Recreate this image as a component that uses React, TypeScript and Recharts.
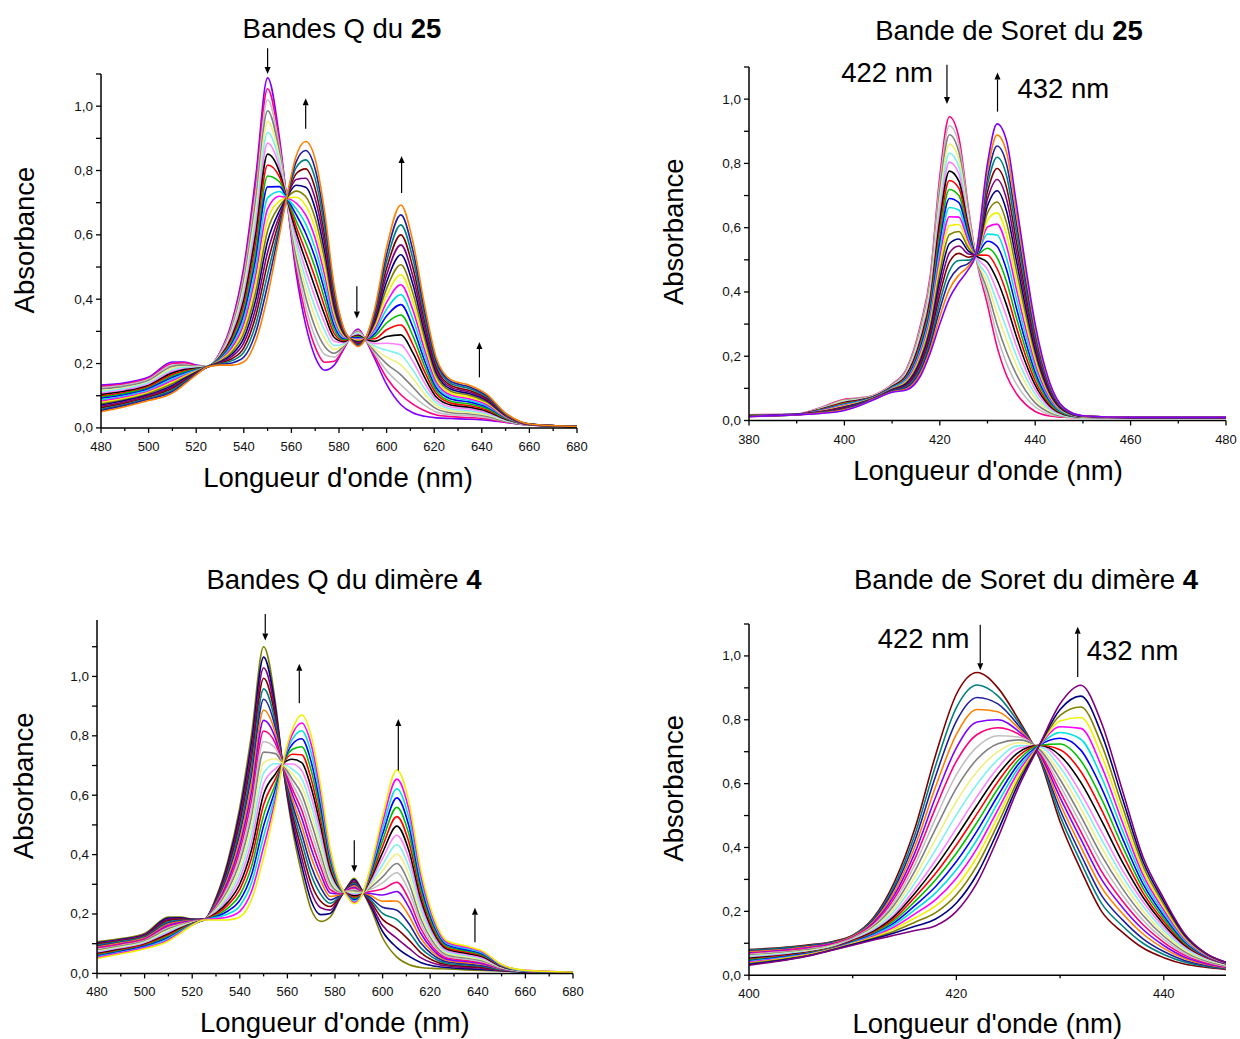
import { LineChart, Line, XAxis, YAxis, ReferenceLine } from 'recharts';

const FONT = '"Liberation Sans", Arial, Helvetica, sans-serif';

// wavelengths (nm) for the Q-band panels
const QBAND_WL = [480, 490, 500, 510, 515, 520, 525, 530, 535, 540, 545, 550, 555, 558, 562, 566, 570, 574, 578, 582, 585, 588, 591, 595, 600, 606, 611, 616, 621, 627, 635, 642, 650, 660, 680];

// absorbance, one row per wavelength, 21 spectra from start to end of the titration
const Q25_ABS = [
  [0.133, 0.129, 0.125, 0.121, 0.116, 0.112, 0.108, 0.104, 0.100, 0.096, 0.092, 0.087, 0.083, 0.079, 0.075, 0.071, 0.067, 0.063, 0.058, 0.054, 0.050],
  [0.140, 0.136, 0.133, 0.129, 0.125, 0.122, 0.118, 0.114, 0.110, 0.107, 0.103, 0.099, 0.096, 0.092, 0.088, 0.085, 0.081, 0.077, 0.073, 0.070, 0.066],
  [0.158, 0.154, 0.151, 0.147, 0.143, 0.140, 0.136, 0.132, 0.129, 0.125, 0.122, 0.118, 0.114, 0.111, 0.107, 0.103, 0.100, 0.096, 0.092, 0.089, 0.085],
  [0.205, 0.200, 0.195, 0.191, 0.186, 0.181, 0.176, 0.171, 0.166, 0.161, 0.157, 0.152, 0.147, 0.142, 0.137, 0.132, 0.127, 0.123, 0.118, 0.113, 0.108],
  [0.205, 0.202, 0.198, 0.195, 0.191, 0.188, 0.184, 0.181, 0.177, 0.174, 0.170, 0.167, 0.163, 0.160, 0.156, 0.153, 0.149, 0.146, 0.142, 0.139, 0.135],
  [0.195, 0.194, 0.192, 0.191, 0.189, 0.188, 0.186, 0.185, 0.183, 0.182, 0.180, 0.179, 0.177, 0.176, 0.174, 0.173, 0.171, 0.170, 0.168, 0.167, 0.165],
  [0.192, 0.192, 0.192, 0.192, 0.192, 0.192, 0.191, 0.191, 0.191, 0.191, 0.191, 0.191, 0.191, 0.191, 0.191, 0.191, 0.190, 0.190, 0.190, 0.190, 0.190],
  [0.235, 0.233, 0.231, 0.229, 0.227, 0.225, 0.223, 0.221, 0.219, 0.217, 0.215, 0.213, 0.211, 0.209, 0.207, 0.205, 0.203, 0.201, 0.199, 0.197, 0.195],
  [0.330, 0.323, 0.317, 0.310, 0.303, 0.296, 0.290, 0.283, 0.276, 0.269, 0.263, 0.256, 0.249, 0.242, 0.236, 0.229, 0.222, 0.215, 0.209, 0.202, 0.195],
  [0.500, 0.485, 0.471, 0.456, 0.441, 0.426, 0.412, 0.397, 0.382, 0.367, 0.353, 0.338, 0.323, 0.308, 0.294, 0.279, 0.264, 0.249, 0.235, 0.220, 0.205],
  [0.780, 0.755, 0.729, 0.704, 0.678, 0.653, 0.627, 0.602, 0.576, 0.551, 0.525, 0.500, 0.474, 0.449, 0.423, 0.398, 0.372, 0.347, 0.321, 0.296, 0.270],
  [1.088, 1.054, 1.020, 0.986, 0.952, 0.918, 0.885, 0.851, 0.817, 0.783, 0.749, 0.715, 0.681, 0.647, 0.613, 0.580, 0.546, 0.512, 0.478, 0.444, 0.410],
  [0.900, 0.885, 0.870, 0.855, 0.840, 0.825, 0.810, 0.795, 0.780, 0.765, 0.750, 0.735, 0.720, 0.705, 0.690, 0.675, 0.660, 0.645, 0.630, 0.615, 0.600],
  [0.715, 0.715, 0.715, 0.715, 0.715, 0.715, 0.715, 0.715, 0.715, 0.715, 0.715, 0.715, 0.715, 0.715, 0.715, 0.715, 0.715, 0.715, 0.715, 0.715, 0.715],
  [0.480, 0.498, 0.517, 0.535, 0.553, 0.571, 0.590, 0.608, 0.626, 0.644, 0.663, 0.681, 0.699, 0.717, 0.736, 0.754, 0.772, 0.790, 0.809, 0.827, 0.845],
  [0.320, 0.349, 0.377, 0.406, 0.434, 0.463, 0.491, 0.520, 0.548, 0.577, 0.605, 0.634, 0.662, 0.691, 0.719, 0.748, 0.776, 0.805, 0.833, 0.862, 0.890],
  [0.220, 0.251, 0.282, 0.312, 0.343, 0.374, 0.405, 0.435, 0.466, 0.497, 0.528, 0.558, 0.589, 0.620, 0.651, 0.681, 0.712, 0.743, 0.774, 0.804, 0.835],
  [0.179, 0.204, 0.228, 0.253, 0.277, 0.302, 0.326, 0.351, 0.375, 0.400, 0.425, 0.449, 0.474, 0.498, 0.523, 0.547, 0.572, 0.596, 0.621, 0.646, 0.670],
  [0.195, 0.207, 0.220, 0.232, 0.244, 0.256, 0.269, 0.281, 0.293, 0.305, 0.318, 0.330, 0.342, 0.354, 0.367, 0.379, 0.391, 0.403, 0.416, 0.428, 0.440],
  [0.245, 0.248, 0.252, 0.255, 0.258, 0.261, 0.265, 0.268, 0.271, 0.274, 0.278, 0.281, 0.284, 0.287, 0.291, 0.294, 0.297, 0.300, 0.304, 0.307, 0.310],
  [0.285, 0.284, 0.284, 0.283, 0.282, 0.282, 0.281, 0.280, 0.280, 0.279, 0.279, 0.278, 0.277, 0.277, 0.276, 0.275, 0.275, 0.274, 0.273, 0.273, 0.272],
  [0.307, 0.304, 0.302, 0.299, 0.296, 0.294, 0.291, 0.288, 0.285, 0.283, 0.280, 0.277, 0.275, 0.272, 0.269, 0.267, 0.264, 0.261, 0.258, 0.256, 0.253],
  [0.276, 0.276, 0.276, 0.276, 0.276, 0.276, 0.276, 0.276, 0.276, 0.276, 0.276, 0.276, 0.276, 0.276, 0.276, 0.276, 0.276, 0.276, 0.276, 0.276, 0.276],
  [0.215, 0.223, 0.231, 0.238, 0.246, 0.254, 0.262, 0.269, 0.277, 0.285, 0.293, 0.300, 0.308, 0.316, 0.324, 0.331, 0.339, 0.347, 0.355, 0.362, 0.370],
  [0.135, 0.156, 0.178, 0.199, 0.220, 0.241, 0.263, 0.284, 0.305, 0.326, 0.348, 0.369, 0.390, 0.411, 0.433, 0.454, 0.475, 0.496, 0.518, 0.539, 0.560],
  [0.072, 0.103, 0.134, 0.165, 0.196, 0.227, 0.258, 0.289, 0.320, 0.351, 0.383, 0.414, 0.445, 0.476, 0.507, 0.538, 0.569, 0.600, 0.631, 0.662, 0.693],
  [0.047, 0.074, 0.100, 0.127, 0.154, 0.180, 0.207, 0.234, 0.260, 0.287, 0.314, 0.340, 0.367, 0.394, 0.420, 0.447, 0.473, 0.500, 0.527, 0.553, 0.580],
  [0.036, 0.053, 0.070, 0.088, 0.105, 0.122, 0.139, 0.157, 0.174, 0.191, 0.208, 0.225, 0.242, 0.260, 0.277, 0.294, 0.311, 0.329, 0.346, 0.363, 0.380],
  [0.031, 0.040, 0.049, 0.059, 0.068, 0.077, 0.086, 0.095, 0.105, 0.114, 0.123, 0.132, 0.141, 0.151, 0.160, 0.169, 0.178, 0.187, 0.197, 0.206, 0.215],
  [0.029, 0.035, 0.041, 0.047, 0.053, 0.059, 0.065, 0.071, 0.077, 0.083, 0.090, 0.096, 0.102, 0.108, 0.114, 0.120, 0.126, 0.132, 0.138, 0.144, 0.150],
  [0.027, 0.032, 0.038, 0.043, 0.048, 0.053, 0.059, 0.064, 0.069, 0.074, 0.080, 0.085, 0.090, 0.095, 0.101, 0.106, 0.111, 0.116, 0.122, 0.127, 0.132],
  [0.024, 0.028, 0.032, 0.036, 0.040, 0.044, 0.048, 0.052, 0.056, 0.060, 0.065, 0.069, 0.073, 0.077, 0.081, 0.085, 0.089, 0.093, 0.097, 0.101, 0.105],
  [0.017, 0.018, 0.020, 0.021, 0.023, 0.024, 0.026, 0.027, 0.029, 0.030, 0.032, 0.033, 0.034, 0.036, 0.037, 0.039, 0.040, 0.042, 0.043, 0.045, 0.046],
  [0.009, 0.009, 0.009, 0.009, 0.010, 0.010, 0.010, 0.010, 0.010, 0.011, 0.011, 0.011, 0.011, 0.011, 0.011, 0.011, 0.011, 0.012, 0.012, 0.012, 0.012],
  [0.004, 0.004, 0.004, 0.004, 0.004, 0.004, 0.004, 0.004, 0.004, 0.004, 0.004, 0.004, 0.004, 0.004, 0.004, 0.004, 0.004, 0.004, 0.004, 0.004, 0.004],
];

const Q4_ABS = [
  [0.106, 0.103, 0.100, 0.098, 0.095, 0.092, 0.089, 0.086, 0.084, 0.081, 0.078, 0.075, 0.072, 0.070, 0.067, 0.064, 0.061, 0.058, 0.056, 0.053, 0.050],
  [0.117, 0.114, 0.112, 0.109, 0.107, 0.104, 0.102, 0.099, 0.097, 0.094, 0.092, 0.089, 0.086, 0.084, 0.081, 0.079, 0.076, 0.074, 0.071, 0.069, 0.066],
  [0.134, 0.131, 0.129, 0.126, 0.124, 0.121, 0.119, 0.116, 0.114, 0.111, 0.109, 0.106, 0.103, 0.101, 0.098, 0.096, 0.093, 0.091, 0.088, 0.086, 0.083],
  [0.190, 0.186, 0.182, 0.178, 0.174, 0.170, 0.166, 0.162, 0.158, 0.154, 0.150, 0.145, 0.141, 0.137, 0.133, 0.129, 0.125, 0.121, 0.117, 0.113, 0.109],
  [0.190, 0.187, 0.185, 0.182, 0.179, 0.176, 0.174, 0.171, 0.168, 0.165, 0.163, 0.160, 0.157, 0.154, 0.152, 0.149, 0.146, 0.143, 0.141, 0.138, 0.135],
  [0.183, 0.182, 0.181, 0.180, 0.179, 0.178, 0.177, 0.176, 0.175, 0.174, 0.173, 0.171, 0.170, 0.169, 0.168, 0.167, 0.166, 0.165, 0.164, 0.163, 0.162],
  [0.182, 0.182, 0.182, 0.182, 0.182, 0.182, 0.181, 0.181, 0.181, 0.181, 0.181, 0.181, 0.181, 0.181, 0.181, 0.181, 0.180, 0.180, 0.180, 0.180, 0.180],
  [0.255, 0.251, 0.248, 0.244, 0.240, 0.236, 0.233, 0.229, 0.225, 0.221, 0.218, 0.214, 0.210, 0.206, 0.203, 0.199, 0.195, 0.191, 0.188, 0.184, 0.180],
  [0.380, 0.370, 0.360, 0.350, 0.340, 0.330, 0.320, 0.310, 0.300, 0.290, 0.280, 0.270, 0.260, 0.250, 0.240, 0.230, 0.220, 0.210, 0.200, 0.190, 0.180],
  [0.560, 0.542, 0.523, 0.505, 0.486, 0.468, 0.449, 0.431, 0.412, 0.394, 0.375, 0.357, 0.338, 0.320, 0.301, 0.283, 0.264, 0.246, 0.227, 0.209, 0.190],
  [0.810, 0.782, 0.754, 0.726, 0.698, 0.670, 0.642, 0.614, 0.586, 0.558, 0.530, 0.502, 0.474, 0.446, 0.418, 0.390, 0.362, 0.334, 0.306, 0.278, 0.250],
  [1.100, 1.065, 1.029, 0.994, 0.958, 0.923, 0.887, 0.852, 0.816, 0.781, 0.745, 0.710, 0.674, 0.639, 0.603, 0.568, 0.532, 0.497, 0.461, 0.426, 0.390],
  [0.910, 0.893, 0.876, 0.859, 0.842, 0.825, 0.808, 0.791, 0.774, 0.757, 0.740, 0.723, 0.706, 0.689, 0.672, 0.655, 0.638, 0.621, 0.604, 0.587, 0.570],
  [0.705, 0.705, 0.705, 0.705, 0.705, 0.705, 0.705, 0.705, 0.705, 0.705, 0.705, 0.705, 0.705, 0.705, 0.705, 0.705, 0.705, 0.705, 0.705, 0.705, 0.705],
  [0.490, 0.507, 0.523, 0.540, 0.556, 0.573, 0.589, 0.606, 0.622, 0.639, 0.655, 0.672, 0.688, 0.705, 0.721, 0.738, 0.754, 0.771, 0.787, 0.804, 0.820],
  [0.336, 0.363, 0.389, 0.416, 0.443, 0.470, 0.496, 0.523, 0.550, 0.576, 0.603, 0.630, 0.656, 0.683, 0.710, 0.736, 0.763, 0.790, 0.817, 0.843, 0.870],
  [0.215, 0.244, 0.274, 0.303, 0.332, 0.361, 0.391, 0.420, 0.449, 0.478, 0.508, 0.537, 0.566, 0.595, 0.625, 0.654, 0.683, 0.712, 0.742, 0.771, 0.800],
  [0.175, 0.198, 0.221, 0.243, 0.266, 0.289, 0.312, 0.334, 0.357, 0.380, 0.403, 0.425, 0.448, 0.471, 0.494, 0.516, 0.539, 0.562, 0.585, 0.607, 0.630],
  [0.190, 0.202, 0.213, 0.225, 0.236, 0.248, 0.259, 0.271, 0.282, 0.294, 0.305, 0.317, 0.328, 0.340, 0.351, 0.363, 0.374, 0.386, 0.397, 0.409, 0.420],
  [0.250, 0.253, 0.255, 0.258, 0.260, 0.263, 0.265, 0.268, 0.270, 0.273, 0.275, 0.278, 0.280, 0.283, 0.285, 0.288, 0.290, 0.293, 0.295, 0.298, 0.300],
  [0.290, 0.289, 0.287, 0.286, 0.284, 0.283, 0.281, 0.280, 0.278, 0.277, 0.275, 0.274, 0.272, 0.271, 0.269, 0.268, 0.266, 0.265, 0.263, 0.262, 0.260],
  [0.320, 0.316, 0.312, 0.307, 0.303, 0.299, 0.295, 0.290, 0.286, 0.282, 0.278, 0.273, 0.269, 0.265, 0.261, 0.256, 0.252, 0.248, 0.244, 0.239, 0.235],
  [0.285, 0.284, 0.282, 0.281, 0.280, 0.278, 0.277, 0.276, 0.274, 0.273, 0.272, 0.270, 0.269, 0.267, 0.266, 0.265, 0.263, 0.262, 0.261, 0.259, 0.258],
  [0.220, 0.227, 0.234, 0.241, 0.248, 0.255, 0.262, 0.269, 0.276, 0.283, 0.290, 0.297, 0.304, 0.311, 0.318, 0.325, 0.332, 0.339, 0.346, 0.353, 0.360],
  [0.120, 0.141, 0.161, 0.182, 0.202, 0.223, 0.243, 0.264, 0.284, 0.305, 0.325, 0.346, 0.366, 0.387, 0.407, 0.428, 0.448, 0.469, 0.489, 0.510, 0.530],
  [0.055, 0.087, 0.118, 0.150, 0.181, 0.213, 0.244, 0.276, 0.307, 0.339, 0.370, 0.402, 0.433, 0.465, 0.496, 0.528, 0.559, 0.591, 0.622, 0.654, 0.685],
  [0.030, 0.058, 0.085, 0.113, 0.140, 0.168, 0.195, 0.223, 0.250, 0.278, 0.305, 0.333, 0.360, 0.388, 0.415, 0.443, 0.470, 0.498, 0.525, 0.553, 0.580],
  [0.020, 0.037, 0.053, 0.070, 0.086, 0.103, 0.119, 0.136, 0.152, 0.169, 0.185, 0.202, 0.218, 0.235, 0.251, 0.268, 0.284, 0.301, 0.317, 0.334, 0.350],
  [0.017, 0.026, 0.035, 0.044, 0.054, 0.063, 0.072, 0.081, 0.090, 0.099, 0.109, 0.118, 0.127, 0.136, 0.145, 0.154, 0.163, 0.173, 0.182, 0.191, 0.200],
  [0.015, 0.020, 0.025, 0.029, 0.034, 0.039, 0.044, 0.048, 0.053, 0.058, 0.063, 0.067, 0.072, 0.077, 0.082, 0.086, 0.091, 0.096, 0.101, 0.105, 0.110],
  [0.012, 0.016, 0.020, 0.024, 0.028, 0.032, 0.036, 0.040, 0.044, 0.048, 0.052, 0.056, 0.060, 0.064, 0.068, 0.072, 0.076, 0.080, 0.084, 0.088, 0.092],
  [0.010, 0.013, 0.017, 0.020, 0.023, 0.026, 0.030, 0.033, 0.036, 0.039, 0.043, 0.046, 0.049, 0.052, 0.056, 0.059, 0.062, 0.065, 0.069, 0.072, 0.075],
  [0.008, 0.009, 0.010, 0.011, 0.012, 0.014, 0.015, 0.016, 0.017, 0.018, 0.019, 0.020, 0.021, 0.022, 0.023, 0.025, 0.026, 0.027, 0.028, 0.029, 0.030],
  [0.005, 0.005, 0.006, 0.006, 0.006, 0.006, 0.007, 0.007, 0.007, 0.007, 0.008, 0.008, 0.008, 0.008, 0.008, 0.009, 0.009, 0.009, 0.009, 0.010, 0.010],
  [0.003, 0.003, 0.003, 0.003, 0.003, 0.003, 0.003, 0.003, 0.003, 0.003, 0.004, 0.004, 0.004, 0.004, 0.004, 0.004, 0.004, 0.004, 0.004, 0.004, 0.004],
];

const SORET25_WL = [380, 390, 395, 400, 403, 406, 410, 413, 416, 418, 420, 422, 424, 426, 427.5, 430, 432, 434, 436, 438, 440, 443, 446, 450, 460, 480];

const SORET25_ABS = [
  [0.018, 0.018, 0.017, 0.017, 0.017, 0.017, 0.016, 0.016, 0.016, 0.015, 0.015, 0.015, 0.014, 0.014, 0.014, 0.014, 0.013, 0.013, 0.013, 0.012, 0.012],
  [0.020, 0.020, 0.020, 0.020, 0.020, 0.020, 0.019, 0.019, 0.019, 0.019, 0.019, 0.019, 0.019, 0.019, 0.019, 0.019, 0.018, 0.018, 0.018, 0.018, 0.018],
  [0.040, 0.039, 0.038, 0.037, 0.036, 0.036, 0.035, 0.034, 0.033, 0.032, 0.031, 0.030, 0.029, 0.028, 0.027, 0.027, 0.026, 0.025, 0.024, 0.023, 0.022],
  [0.066, 0.064, 0.063, 0.061, 0.059, 0.057, 0.056, 0.054, 0.052, 0.050, 0.049, 0.047, 0.045, 0.043, 0.042, 0.040, 0.038, 0.036, 0.035, 0.033, 0.031],
  [0.070, 0.069, 0.068, 0.066, 0.065, 0.064, 0.063, 0.061, 0.060, 0.059, 0.058, 0.056, 0.055, 0.054, 0.053, 0.051, 0.050, 0.049, 0.048, 0.046, 0.045],
  [0.078, 0.077, 0.077, 0.076, 0.075, 0.075, 0.074, 0.073, 0.072, 0.072, 0.071, 0.070, 0.070, 0.069, 0.068, 0.068, 0.067, 0.066, 0.065, 0.065, 0.064],
  [0.113, 0.112, 0.111, 0.109, 0.108, 0.107, 0.106, 0.104, 0.103, 0.102, 0.101, 0.099, 0.098, 0.097, 0.096, 0.094, 0.093, 0.092, 0.091, 0.089, 0.088],
  [0.160, 0.157, 0.154, 0.150, 0.147, 0.144, 0.141, 0.137, 0.134, 0.131, 0.128, 0.124, 0.121, 0.118, 0.115, 0.111, 0.108, 0.105, 0.102, 0.098, 0.095],
  [0.300, 0.292, 0.284, 0.276, 0.268, 0.260, 0.252, 0.244, 0.236, 0.228, 0.220, 0.212, 0.204, 0.196, 0.188, 0.180, 0.172, 0.164, 0.156, 0.148, 0.140],
  [0.450, 0.438, 0.426, 0.414, 0.402, 0.390, 0.378, 0.366, 0.354, 0.342, 0.330, 0.318, 0.306, 0.294, 0.282, 0.270, 0.258, 0.246, 0.234, 0.222, 0.210],
  [0.760, 0.737, 0.714, 0.691, 0.668, 0.645, 0.622, 0.599, 0.576, 0.553, 0.530, 0.507, 0.484, 0.461, 0.438, 0.415, 0.392, 0.369, 0.346, 0.323, 0.300],
  [0.945, 0.917, 0.889, 0.860, 0.832, 0.804, 0.776, 0.747, 0.719, 0.691, 0.663, 0.634, 0.606, 0.578, 0.550, 0.521, 0.493, 0.465, 0.437, 0.408, 0.380],
  [0.880, 0.858, 0.835, 0.813, 0.790, 0.768, 0.745, 0.723, 0.700, 0.678, 0.655, 0.633, 0.610, 0.588, 0.565, 0.543, 0.520, 0.498, 0.475, 0.453, 0.430],
  [0.660, 0.651, 0.641, 0.632, 0.622, 0.613, 0.603, 0.594, 0.584, 0.575, 0.565, 0.556, 0.546, 0.537, 0.527, 0.518, 0.508, 0.499, 0.489, 0.480, 0.470],
  [0.515, 0.515, 0.515, 0.515, 0.515, 0.515, 0.515, 0.515, 0.515, 0.515, 0.515, 0.515, 0.515, 0.515, 0.515, 0.515, 0.515, 0.515, 0.515, 0.515, 0.515],
  [0.360, 0.382, 0.404, 0.426, 0.448, 0.470, 0.492, 0.514, 0.536, 0.558, 0.580, 0.602, 0.624, 0.646, 0.668, 0.690, 0.712, 0.734, 0.756, 0.778, 0.800],
  [0.230, 0.265, 0.299, 0.334, 0.369, 0.403, 0.438, 0.473, 0.507, 0.542, 0.577, 0.611, 0.646, 0.680, 0.715, 0.750, 0.784, 0.819, 0.854, 0.888, 0.923],
  [0.140, 0.177, 0.213, 0.250, 0.286, 0.323, 0.359, 0.396, 0.432, 0.469, 0.505, 0.542, 0.578, 0.615, 0.651, 0.688, 0.724, 0.761, 0.797, 0.834, 0.870],
  [0.085, 0.115, 0.145, 0.174, 0.204, 0.234, 0.264, 0.293, 0.323, 0.353, 0.383, 0.412, 0.442, 0.472, 0.502, 0.531, 0.561, 0.591, 0.621, 0.650, 0.680],
  [0.050, 0.072, 0.093, 0.115, 0.136, 0.158, 0.179, 0.201, 0.222, 0.244, 0.265, 0.287, 0.308, 0.330, 0.351, 0.373, 0.394, 0.416, 0.437, 0.459, 0.480],
  [0.028, 0.042, 0.055, 0.069, 0.082, 0.096, 0.110, 0.123, 0.137, 0.150, 0.164, 0.178, 0.191, 0.205, 0.218, 0.232, 0.246, 0.259, 0.273, 0.286, 0.300],
  [0.014, 0.019, 0.025, 0.030, 0.035, 0.041, 0.046, 0.051, 0.056, 0.062, 0.067, 0.072, 0.078, 0.083, 0.088, 0.094, 0.099, 0.104, 0.109, 0.115, 0.120],
  [0.010, 0.012, 0.013, 0.015, 0.016, 0.018, 0.019, 0.021, 0.022, 0.024, 0.025, 0.027, 0.028, 0.030, 0.031, 0.033, 0.034, 0.036, 0.037, 0.039, 0.040],
  [0.008, 0.008, 0.009, 0.009, 0.009, 0.010, 0.010, 0.010, 0.011, 0.011, 0.012, 0.012, 0.012, 0.013, 0.013, 0.013, 0.014, 0.014, 0.014, 0.015, 0.015],
  [0.008, 0.008, 0.008, 0.008, 0.008, 0.008, 0.009, 0.009, 0.009, 0.009, 0.009, 0.009, 0.009, 0.009, 0.009, 0.009, 0.010, 0.010, 0.010, 0.010, 0.010],
  [0.008, 0.008, 0.008, 0.008, 0.008, 0.008, 0.009, 0.009, 0.009, 0.009, 0.009, 0.009, 0.009, 0.009, 0.009, 0.009, 0.010, 0.010, 0.010, 0.010, 0.010],
];

const SORET4_WL = [400, 402, 404, 406, 408, 410, 412, 414, 416, 418, 420, 422, 424, 426, 428, 430, 432, 434, 436, 438, 440, 442, 444, 446];

const SORET4_ABS = [
  [0.080, 0.078, 0.075, 0.073, 0.070, 0.068, 0.065, 0.063, 0.060, 0.058, 0.055, 0.053, 0.050, 0.048, 0.045, 0.043, 0.041, 0.038, 0.036, 0.034, 0.031],
  [0.084, 0.082, 0.079, 0.077, 0.074, 0.072, 0.070, 0.067, 0.065, 0.063, 0.060, 0.058, 0.056, 0.054, 0.052, 0.050, 0.048, 0.046, 0.044, 0.042, 0.040],
  [0.089, 0.087, 0.084, 0.082, 0.080, 0.078, 0.075, 0.073, 0.071, 0.069, 0.066, 0.065, 0.063, 0.061, 0.060, 0.058, 0.056, 0.055, 0.053, 0.051, 0.050],
  [0.096, 0.094, 0.092, 0.090, 0.087, 0.085, 0.083, 0.081, 0.078, 0.076, 0.074, 0.073, 0.072, 0.071, 0.069, 0.068, 0.067, 0.066, 0.064, 0.063, 0.062],
  [0.105, 0.103, 0.101, 0.099, 0.098, 0.096, 0.094, 0.092, 0.091, 0.089, 0.087, 0.086, 0.085, 0.084, 0.083, 0.082, 0.082, 0.081, 0.080, 0.079, 0.078],
  [0.125, 0.124, 0.122, 0.121, 0.119, 0.118, 0.116, 0.115, 0.113, 0.112, 0.110, 0.109, 0.107, 0.105, 0.104, 0.102, 0.100, 0.099, 0.097, 0.096, 0.094],
  [0.180, 0.176, 0.172, 0.168, 0.164, 0.160, 0.156, 0.152, 0.148, 0.144, 0.140, 0.137, 0.134, 0.131, 0.128, 0.125, 0.122, 0.119, 0.116, 0.113, 0.110],
  [0.290, 0.280, 0.270, 0.260, 0.250, 0.240, 0.230, 0.220, 0.210, 0.200, 0.190, 0.184, 0.177, 0.171, 0.164, 0.158, 0.151, 0.145, 0.138, 0.132, 0.125],
  [0.460, 0.441, 0.422, 0.403, 0.384, 0.365, 0.346, 0.327, 0.308, 0.289, 0.270, 0.257, 0.244, 0.231, 0.218, 0.205, 0.192, 0.179, 0.166, 0.153, 0.140],
  [0.690, 0.657, 0.624, 0.591, 0.558, 0.525, 0.492, 0.459, 0.426, 0.393, 0.360, 0.340, 0.319, 0.299, 0.278, 0.258, 0.237, 0.217, 0.196, 0.176, 0.155],
  [0.880, 0.838, 0.796, 0.754, 0.712, 0.670, 0.628, 0.586, 0.544, 0.502, 0.460, 0.434, 0.408, 0.382, 0.356, 0.330, 0.304, 0.278, 0.252, 0.226, 0.200],
  [0.948, 0.909, 0.870, 0.832, 0.793, 0.754, 0.715, 0.677, 0.638, 0.599, 0.560, 0.533, 0.506, 0.479, 0.452, 0.425, 0.398, 0.371, 0.344, 0.317, 0.290],
  [0.900, 0.875, 0.850, 0.825, 0.800, 0.775, 0.750, 0.725, 0.700, 0.675, 0.650, 0.628, 0.606, 0.584, 0.562, 0.540, 0.518, 0.496, 0.474, 0.452, 0.430],
  [0.800, 0.791, 0.782, 0.773, 0.764, 0.755, 0.746, 0.737, 0.728, 0.719, 0.710, 0.698, 0.686, 0.674, 0.662, 0.650, 0.638, 0.626, 0.614, 0.602, 0.590],
  [0.680, 0.684, 0.688, 0.692, 0.696, 0.700, 0.704, 0.708, 0.712, 0.716, 0.720, 0.720, 0.720, 0.720, 0.720, 0.720, 0.720, 0.720, 0.720, 0.720, 0.720],
  [0.480, 0.499, 0.518, 0.537, 0.556, 0.575, 0.594, 0.613, 0.632, 0.651, 0.670, 0.688, 0.706, 0.724, 0.742, 0.760, 0.778, 0.796, 0.814, 0.832, 0.850],
  [0.330, 0.354, 0.378, 0.402, 0.426, 0.450, 0.474, 0.498, 0.522, 0.546, 0.570, 0.604, 0.638, 0.672, 0.705, 0.739, 0.773, 0.807, 0.840, 0.874, 0.908],
  [0.200, 0.225, 0.250, 0.275, 0.300, 0.325, 0.350, 0.375, 0.400, 0.425, 0.450, 0.484, 0.518, 0.552, 0.586, 0.620, 0.654, 0.688, 0.722, 0.756, 0.790],
  [0.135, 0.155, 0.174, 0.194, 0.213, 0.233, 0.252, 0.272, 0.291, 0.311, 0.330, 0.355, 0.380, 0.405, 0.430, 0.455, 0.480, 0.505, 0.530, 0.555, 0.580],
  [0.085, 0.100, 0.114, 0.129, 0.143, 0.158, 0.172, 0.187, 0.201, 0.216, 0.230, 0.244, 0.258, 0.272, 0.286, 0.300, 0.314, 0.328, 0.342, 0.356, 0.370],
  [0.055, 0.065, 0.074, 0.084, 0.093, 0.103, 0.112, 0.122, 0.131, 0.141, 0.150, 0.159, 0.168, 0.177, 0.186, 0.195, 0.204, 0.213, 0.222, 0.231, 0.240],
  [0.035, 0.041, 0.046, 0.052, 0.057, 0.063, 0.068, 0.074, 0.079, 0.085, 0.090, 0.094, 0.098, 0.102, 0.106, 0.110, 0.114, 0.118, 0.122, 0.126, 0.130],
  [0.025, 0.028, 0.031, 0.034, 0.037, 0.040, 0.043, 0.046, 0.049, 0.052, 0.055, 0.057, 0.058, 0.060, 0.061, 0.063, 0.064, 0.066, 0.067, 0.069, 0.070],
  [0.018, 0.020, 0.021, 0.023, 0.025, 0.027, 0.028, 0.030, 0.032, 0.034, 0.035, 0.036, 0.036, 0.037, 0.037, 0.038, 0.038, 0.039, 0.039, 0.040, 0.040],
];

// axis ticks
const QBAND_X_TICKS = [480, 490, 500, 510, 520, 530, 540, 550, 560, 570, 580, 590, 600, 610, 620, 630, 640, 650, 660, 670, 680];
const SORET25_X_TICKS = [380, 390, 400, 410, 420, 430, 440, 450, 460, 470, 480];
const SORET4_X_TICKS = [400, 410, 420, 430, 440];
const Y_TICKS = [0, 0.1, 0.2, 0.3, 0.4, 0.5, 0.6, 0.7, 0.8, 0.9, 1.0, 1.1];

// arrows showing the direction of change (wavelength, start, end absorbance)
const Q25_ARROWS = [
  { wl: 550, from: 1.18, to: 1.1 },
  { wl: 566, from: 0.93, to: 1.025 },
  { wl: 587.5, from: 0.44, to: 0.34 },
  { wl: 606.3, from: 0.73, to: 0.845 },
  { wl: 639, from: 0.157, to: 0.267 },
];
const SORET25_ARROWS = [
  { wl: 421.5, from: 1.107, to: 0.985 },
  { wl: 432.1, from: 0.961, to: 1.083 },
];
const Q4_ARROWS = [
  { wl: 550.7, from: 1.21, to: 1.121 },
  { wl: 565, from: 0.91, to: 1.043 },
  { wl: 588.1, from: 0.448, to: 0.341 },
  { wl: 606.6, from: 0.683, to: 0.857 },
  { wl: 638.8, from: 0.105, to: 0.221 },
];
const SORET4_ARROWS = [
  { wl: 422.3, from: 1.098, to: 0.955 },
  { wl: 431.7, from: 0.934, to: 1.091 },
];

// Origin-like colour cycle
const CYCLE = ['#000000', '#ff0000', '#00c000', '#0000ff', '#00e0e0', '#ff00ff', '#f0f000', '#808000', '#000080', '#800080', '#800000', '#008080', '#2020a0', '#ff8000', '#8000ff', '#ff0080', '#c0c0c0', '#808080', '#f0f080', '#80f0f0', '#ff80ff'];

const ML = 60;
const MR = 14;
const MT = 40;
const MB = 34;

const PANELS = [
  { id: 'q25', wl: QBAND_WL, abs: Q25_ABS, arrows: Q25_ARROWS, xTicks: QBAND_X_TICKS, xDomain: [480, 680], yMax: 1.1, left: 101, top: 73.8, w: 476, h: 353.9, colorOffset: 14 },
  { id: 's25', wl: SORET25_WL, abs: SORET25_ABS, arrows: SORET25_ARROWS, xTicks: SORET25_X_TICKS, xDomain: [380, 480], yMax: 1.1, left: 749, top: 67.2, w: 477, h: 353.5, colorOffset: 15 },
  { id: 'q4', wl: QBAND_WL, abs: Q4_ABS, arrows: Q4_ARROWS, xTicks: QBAND_X_TICKS, xDomain: [480, 680], yMax: 1.19, left: 97, top: 619.6, w: 476, h: 353.4, colorOffset: 7 },
  { id: 's4', wl: SORET4_WL, abs: SORET4_ABS, arrows: SORET4_ARROWS, xTicks: SORET4_X_TICKS, xDomain: [400, 446], yMax: 1.1, left: 749, top: 623.8, w: 477, h: 351.2, colorOffset: 10 },
];

function XTick(props: any) {
  const { x, y, payload } = props;
  const v = payload.value;
  const major = v % 20 === 0;
  return (
    <g>
      <line x1={x} x2={x} y1={y} y2={y + (major ? 5 : 3)} stroke="#000" strokeWidth={1.3} />
      {major && (
        <text x={x} y={y + 23} textAnchor="middle" fontSize={13} fontFamily={FONT} fill="#111">
          {v}
        </text>
      )}
    </g>
  );
}

function YTick(props: any) {
  const { x, y, payload } = props;
  const v = payload.value;
  const major = Math.round(v * 10) % 2 === 0;
  return (
    <g>
      <line x1={x - 5} x2={x} y1={y} y2={y} stroke="#000" strokeWidth={1.3} />
      {major && (
        <text x={x - 8} y={y + 4.5} textAnchor="end" fontSize={13.5} fontFamily={FONT} fill="#111">
          {v.toFixed(1).replace('.', ',')}
        </text>
      )}
    </g>
  );
}

function Arrow(props: any) {
  const { x1, y1, x2, y2 } = props;
  const dir = y2 > y1 ? 1 : -1;
  const head = 7;
  return (
    <g>
      <line x1={x1} y1={y1} x2={x2} y2={y2 - dir * head} stroke="#000" strokeWidth={1.2} />
      <polygon points={`${x2 - 3},${y2 - dir * head} ${x2 + 3},${y2 - dir * head} ${x2},${y2}`} fill="#000" />
    </g>
  );
}

function Panel({ p }: { p: (typeof PANELS)[number] }) {
  const nSpectra = p.abs[0].length;
  const rows = p.wl.map((wl, i) => {
    const row: Record<string, number> = { wl };
    p.abs[i].forEach((v, k) => {
      row['s' + k] = v;
    });
    return row;
  });
  const keys = Array.from({ length: nSpectra }, (_, k) => k);
  return (
    <div style={{ position: 'absolute', left: p.left - ML, top: p.top - MT }}>
      <LineChart
        width={ML + p.w + MR}
        height={MT + p.h + MB}
        data={rows}
        margin={{ top: MT, right: MR, left: 0, bottom: 0 }}
      >
        <XAxis
          type="number"
          dataKey="wl"
          domain={p.xDomain}
          ticks={p.xTicks}
          interval={0}
          height={MB}
          tickSize={0}
          tickMargin={0}
          tickLine={false}
          tick={(t: any) => <XTick {...t} />}
          axisLine={{ stroke: '#000', strokeWidth: 1.5 }}
          allowDataOverflow
        />
        <YAxis
          type="number"
          domain={[0, p.yMax]}
          ticks={Y_TICKS}
          interval={0}
          width={ML}
          tickSize={0}
          tickMargin={0}
          tickLine={false}
          tick={(t: any) => <YTick {...t} />}
          axisLine={{ stroke: '#000', strokeWidth: 1.5 }}
          allowDataOverflow
        />
        {keys.map((k) => (
          <Line
            key={k}
            type="monotone"
            dataKey={'s' + k}
            stroke={CYCLE[(k + p.colorOffset) % CYCLE.length]}
            strokeWidth={1.6}
            dot={false}
            activeDot={false}
            isAnimationActive={false}
          />
        ))}
        {p.arrows.map((a, i) => (
          <ReferenceLine
            key={'a' + i}
            segment={[{ x: a.wl, y: a.from }, { x: a.wl, y: a.to }]}
            ifOverflow="visible"
            shape={(sp: any) => <Arrow {...sp} />}
          />
        ))}
      </LineChart>
    </div>
  );
}

const BIG = 27.5;

export default function App() {
  return (
    <div style={{ position: 'absolute', left: 0, top: 0, width: 1240, height: 1039, background: '#fff', overflow: 'hidden' }}>
      {PANELS.map((p) => (
        <Panel key={p.id} p={p} />
      ))}
      <svg width={1240} height={1039} style={{ position: 'absolute', left: 0, top: 0, pointerEvents: 'none' }} fontFamily={FONT} fill="#000">
        <text x={342} y={37.5} fontSize={BIG} textAnchor="middle">
          Bandes Q du <tspan fontWeight="bold">25</tspan>
        </text>
        <text x={1009} y={40} fontSize={BIG} textAnchor="middle">
          Bande de Soret du <tspan fontWeight="bold">25</tspan>
        </text>
        <text x={344} y={589} fontSize={BIG} textAnchor="middle">
          Bandes Q du dimère <tspan fontWeight="bold">4</tspan>
        </text>
        <text x={1026} y={589} fontSize={BIG} textAnchor="middle">
          Bande de Soret du dimère <tspan fontWeight="bold">4</tspan>
        </text>

        <text x={34} y={240} fontSize={BIG} textAnchor="middle" transform="rotate(-90 34 240)">Absorbance</text>
        <text x={682.6} y={231.7} fontSize={BIG} textAnchor="middle" transform="rotate(-90 682.6 231.7)">Absorbance</text>
        <text x={32.7} y={785.8} fontSize={BIG} textAnchor="middle" transform="rotate(-90 32.7 785.8)">Absorbance</text>
        <text x={683} y={788.3} fontSize={BIG} textAnchor="middle" transform="rotate(-90 683 788.3)">Absorbance</text>

        <text x={338} y={486.7} fontSize={BIG} textAnchor="middle">Longueur d'onde (nm)</text>
        <text x={988} y={480} fontSize={BIG} textAnchor="middle">Longueur d'onde (nm)</text>
        <text x={334.8} y={1031.7} fontSize={BIG} textAnchor="middle">Longueur d'onde (nm)</text>
        <text x={987.3} y={1033.3} fontSize={BIG} textAnchor="middle">Longueur d'onde (nm)</text>

        <text x={887} y={81.7} fontSize={BIG} textAnchor="middle">422 nm</text>
        <text x={1063.4} y={97.7} fontSize={BIG} textAnchor="middle">432 nm</text>
        <text x={923.5} y={648.3} fontSize={BIG} textAnchor="middle">422 nm</text>
        <text x={1132.6} y={660} fontSize={BIG} textAnchor="middle">432 nm</text>
      </svg>
    </div>
  );
}
